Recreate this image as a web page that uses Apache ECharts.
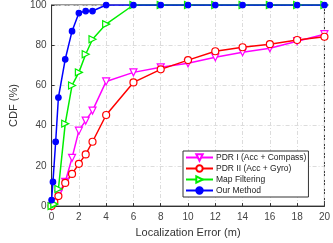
<!DOCTYPE html>
<html><head><meta charset="utf-8">
<script src="https://cdn.jsdelivr.net/npm/echarts@6/dist/echarts.min.js"></script>
<style>html,body{margin:0;padding:0;background:#fff}#c{width:333px;height:243px}</style>
</head><body><div id="c"></div>
<script>
var seriesNames = ['PDR I (Acc + Compass)', 'PDR II (Acc + Gyro)', 'Map Filtering', 'Our Method'];
var pdr1X = [0, 0.2, 0.5, 1, 1.5, 2, 2.5, 3, 4, 6, 8, 10, 12, 14, 16, 18, 20];
var pdr1Y = [0, 2, 6, 12, 24, 37.5, 42.5, 47.5, 62, 66.5, 69, 71, 74, 76.5, 78.5, 82, 85.5];
var pdr2X = [0, 0.2, 0.5, 1, 1.5, 2, 2.5, 3, 4, 6, 8, 10, 12, 14, 16, 18, 20];
var pdr2Y = [0, 2, 5, 11.5, 16, 21, 25.7, 32, 45.3, 61.5, 68, 72.6, 77, 79, 80.5, 82.6, 84.2];
var mapX = [0, 0.2, 0.5, 1, 1.5, 2, 2.5, 3, 4, 6, 8, 10, 12, 14, 16, 18, 20];
var mapY = [0, 1, 8.5, 41, 60, 66.5, 75.5, 83, 90.5, 100, 100, 100, 100, 100, 100, 100, 100];
var oursX = [0, 0.1, 0.3, 0.5, 1, 1.5, 2, 2.5, 3, 4, 6, 8, 10, 12, 14, 16, 18, 20];
var oursY = [3, 12, 32, 54, 73, 87, 96, 97, 97, 100, 100, 100, 100, 100, 100, 100, 100, 100];
var xTicks = [0, 2, 4, 6, 8, 10, 12, 14, 16, 18, 20];
var yTicks = [0, 20, 40, 60, 80, 100];

function pairs(xs, ys) { return xs.map(function (x, i) { return [x, ys[i]]; }); }

var font = 'Liberation Sans, Arial, sans-serif';
var chart = echarts.init(document.getElementById('c'));
function mk(name, xs, ys, color, symbol, size, rot, filled) {
  return {
    name: name, type: 'line', data: pairs(xs, ys),
    symbol: symbol, symbolSize: size, symbolRotate: rot,
    showAllSymbol: true,
    lineStyle: { color: color, width: 1.5 },
    itemStyle: { color: filled ? color : '#fff', borderColor: color, borderWidth: 1.2 },
    emphasis: { disabled: true },
    animation: false
  };
}
chart.setOption({
  animation: false,
  textStyle: { fontFamily: font },
  grid: { left: 35, right: 8, top: 4, bottom: 32, show: true, borderColor: '#333', borderWidth: 1, backgroundColor: 'transparent' },
  xAxis: {
    type: 'value', min: 0, max: 20, interval: 2,
    name: 'Localization Error (m)', nameLocation: 'middle', nameGap: 19,
    nameTextStyle: { fontSize: 11, color: '#333', fontFamily: font },
    axisLine: { lineStyle: { color: '#333' } },
    axisTick: { inside: true, length: 3, lineStyle: { color: '#333' } },
    axisLabel: { fontSize: 10, color: '#444', margin: 6, fontFamily: font,
      formatter: function (v) { return xTicks.indexOf(v) >= 0 ? String(v) : ''; } },
    splitLine: { show: true, lineStyle: { color: '#dcdcdc', type: [4, 2, 1, 2], width: 1 } }
  },
  yAxis: {
    type: 'value', min: 0, max: 100, interval: 20,
    name: 'CDF (%)', nameLocation: 'middle', nameGap: 23, nameRotate: 90,
    nameTextStyle: { fontSize: 11, color: '#333', fontFamily: font },
    axisLine: { show: true, lineStyle: { color: '#333' } },
    axisTick: { show: true, inside: true, length: 3, lineStyle: { color: '#333' } },
    axisLabel: { fontSize: 10, color: '#444', margin: 5, fontFamily: font,
      formatter: function (v) { return yTicks.indexOf(v) >= 0 ? String(v) : ''; } },
    splitLine: { show: true, lineStyle: { color: '#dcdcdc', type: [4, 2, 1, 2], width: 1 } }
  },
  legend: {
    orient: 'vertical', left: 183, top: 151,
    backgroundColor: '#fff', borderColor: '#333', borderWidth: 1,
    padding: [2, 2, 2, 2], itemGap: 2, itemWidth: 27, itemHeight: 8,
    textStyle: { fontSize: 8.5, color: '#222', fontFamily: font, padding: [0, 0, 0, -2] },
    data: seriesNames
  },
  series: [
    mk(seriesNames[0], pdr1X, pdr1Y, '#ff00ff', 'triangle', 7, 180, false),
    mk(seriesNames[1], pdr2X, pdr2Y, '#ff0000', 'circle', 7, 0, false),
    mk(seriesNames[2], mapX, mapY, '#00ee00', 'triangle', 7, -90, false),
    mk(seriesNames[3], oursX, oursY, '#0000ff', 'circle', 5.5, 0, true)
  ]
});
</script></body></html>
